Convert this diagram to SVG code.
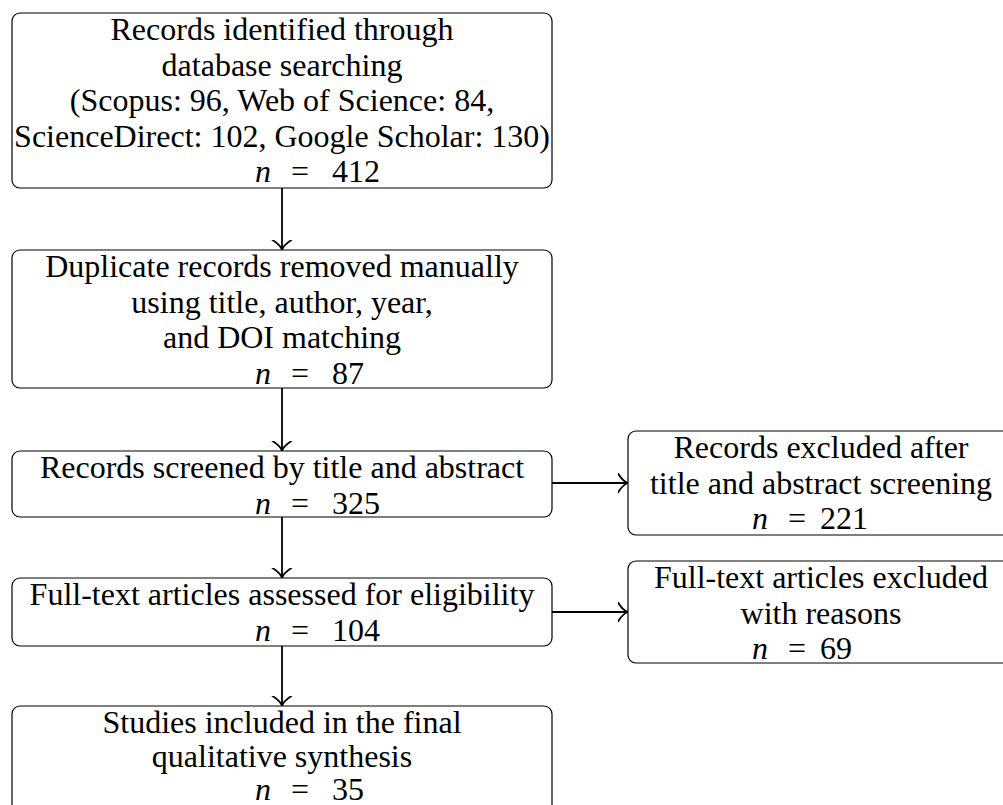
<svg xmlns="http://www.w3.org/2000/svg" width="1003" height="805" viewBox="0 0 1003 805">
<style>
.box{fill:#fff;stroke:#000;stroke-width:1.2}
text{font-family:"Liberation Serif","Times New Roman",serif;font-size:32px;fill:#000;text-anchor:middle}
.it{font-style:italic}
.num{text-anchor:start}
.conn{stroke:#000;stroke-width:1.8;fill:none}
</style>
<defs>
<marker id="ah" markerUnits="userSpaceOnUse" markerWidth="12" markerHeight="22" refX="10" refY="10" orient="auto" viewBox="0 0 12 22">
<path d="M0,0.5 Q5,8.5 10,10 Q5,11.5 0,19.5" fill="none" stroke="#000" stroke-width="1.8" stroke-linecap="round"/>
</marker>
</defs>
<rect width="1003" height="805" fill="#fff"/>
<g id="connectors">
<line class="conn" x1="282" y1="188" x2="282" y2="250" marker-end="url(#ah)"/>
<line class="conn" x1="282" y1="388" x2="282" y2="451" marker-end="url(#ah)"/>
<line class="conn" x1="282" y1="517" x2="282" y2="578" marker-end="url(#ah)"/>
<line class="conn" x1="282" y1="646" x2="282" y2="706" marker-end="url(#ah)"/>
<line class="conn" x1="552" y1="483" x2="628" y2="483" marker-end="url(#ah)"/>
<line class="conn" x1="552" y1="612" x2="628" y2="612" marker-end="url(#ah)"/>
</g>
<g id="identified">
<rect class="box" x="12" y="13" width="540" height="175" rx="8"/>
<text x="282" y="40">Records identified through</text>
<text x="282" y="75.5">database searching</text>
<text x="282" y="111">(Scopus: 96, Web of Science: 84,</text>
<text x="282" y="146.5">ScienceDirect: 102, Google Scholar: 130)</text>
<text x="263" y="182" class="it">n</text><text x="300" y="182">=</text><text x="332" y="182" class="num">412</text>
</g>
<g id="duplicates">
<rect class="box" x="12" y="250" width="540" height="138" rx="8"/>
<text x="282" y="277">Duplicate records removed manually</text>
<text x="282" y="312.5">using title, author, year,</text>
<text x="282" y="348">and DOI matching</text>
<text x="263" y="383.5" class="it">n</text><text x="300" y="383.5">=</text><text x="332" y="383.5" class="num">87</text>
</g>
<g id="screened">
<rect class="box" x="12" y="451" width="540" height="66" rx="8"/>
<text x="282" y="478">Records screened by title and abstract</text>
<text x="263" y="513.5" class="it">n</text><text x="300" y="513.5">=</text><text x="332" y="513.5" class="num">325</text>
</g>
<g id="excluded1">
<rect class="box" x="628" y="431" width="390" height="104" rx="8"/>
<text x="821" y="458">Records excluded after</text>
<text x="821" y="493.5">title and abstract screening</text>
<text x="760" y="529" class="it">n</text><text x="797" y="529">=</text><text x="820" y="529" class="num">221</text>
</g>
<g id="fulltext">
<rect class="box" x="12" y="578" width="540" height="68" rx="8"/>
<text x="282" y="605">Full-text articles assessed for eligibility</text>
<text x="263" y="640.5" class="it">n</text><text x="300" y="640.5">=</text><text x="332" y="640.5" class="num">104</text>
</g>
<g id="excluded2">
<rect class="box" x="628" y="561" width="390" height="102" rx="8"/>
<text x="821" y="588">Full-text articles excluded</text>
<text x="821" y="623.5">with reasons</text>
<text x="760" y="659" class="it">n</text><text x="797" y="659">=</text><text x="820" y="659" class="num">69</text>
</g>
<g id="included">
<rect class="box" x="12" y="706" width="540" height="110" rx="8"/>
<text x="282" y="733">Studies included in the final</text>
<text x="282" y="767">qualitative synthesis</text>
<text x="263" y="800" class="it">n</text><text x="300" y="800">=</text><text x="332" y="800" class="num">35</text>
</g>
</svg>
